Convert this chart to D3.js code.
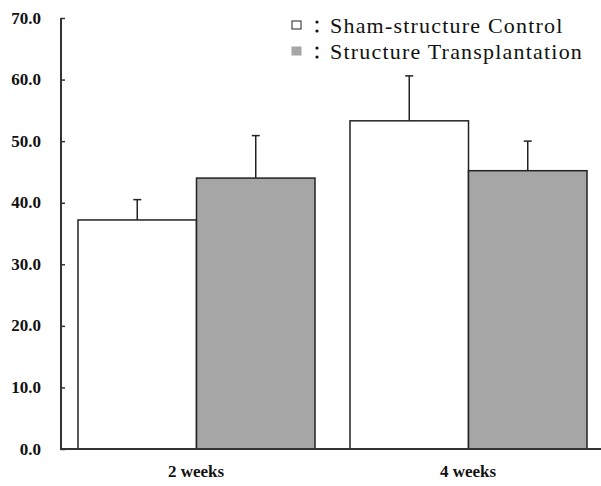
<!DOCTYPE html>
<html>
<head>
<meta charset="utf-8">
<script src="https://cdn.jsdelivr.net/npm/d3@7"></script>
<style>
  body { margin: 0; background: #fff; }
  text { font-family: "Liberation Serif", "Times New Roman", serif; fill: #111; }
</style>
</head>
<body>
<svg id="chart" width="601" height="486"></svg>
<script>
var groups = ['2 weeks', '4 weeks'];
var series = ['Sham-structure Control', 'Structure Transplantation'];
var colors = ['#ffffff', '#a6a6a6'];
// means and SD (upper error bars only)
var means = [[37.2, 44.0], [53.3, 45.2]];
var errs = [[3.3, 6.9], [7.3, 4.8]];
var yTicks = [0, 10, 20, 30, 40, 50, 60, 70];

var svg = d3.select('#chart');
var mLeft = 61, mRight = 605, mTop = 18, mBottom = 449;

var y = d3.scaleLinear().domain([0, 70]).range([mBottom, mTop]);
var x0 = d3.scaleBand().domain(groups).range([mLeft, mRight]);
var x1 = d3.scaleBand().domain(series).range([17, x0.bandwidth() - 18]);

var data = [];
groups.forEach(function(g, i) {
  series.forEach(function(s, j) {
    data.push({ group: g, series: s, v: means[i][j], e: errs[i][j], c: colors[j] });
  });
});

function cx(d) { return x0(d.group) + x1(d.series) + x1.bandwidth() / 2; }

// error bars (drawn behind bars)
var eb = svg.append('g').attr('class', 'errs')
  .selectAll('g').data(data).enter().append('g')
  .attr('stroke', '#222').attr('stroke-width', 1.5);
eb.append('line')
  .attr('x1', cx).attr('x2', cx)
  .attr('y1', function(d) { return y(d.v); })
  .attr('y2', function(d) { return y(d.v + d.e); });
eb.append('line')
  .attr('x1', function(d) { return cx(d) - 4; })
  .attr('x2', function(d) { return cx(d) + 4; })
  .attr('y1', function(d) { return y(d.v + d.e); })
  .attr('y2', function(d) { return y(d.v + d.e); });

svg.append('g').attr('class', 'bars')
  .selectAll('rect').data(data).enter().append('rect')
  .attr('x', function(d) { return x0(d.group) + x1(d.series); })
  .attr('width', x1.bandwidth())
  .attr('y', function(d) { return y(d.v); })
  .attr('height', function(d) { return mBottom - y(d.v); })
  .attr('fill', function(d) { return d.c; })
  .attr('stroke', '#222')
  .attr('stroke-width', 1.5);

// y axis
var yAxis = svg.append('g')
  .attr('transform', 'translate(' + mLeft + ',0)')
  .call(d3.axisRight(y).tickValues(yTicks).tickSize(4).tickFormat(''));
yAxis.select('.domain').attr('stroke', '#333').attr('stroke-width', 2).attr('d', 'M0,' + mTop + 'V' + mBottom);
yAxis.selectAll('.tick line').attr('stroke', '#333').attr('stroke-width', 1.5);

svg.append('g').selectAll('text').data(yTicks).enter().append('text')
  .attr('x', 41)
  .attr('y', function(d) { return y(d) + 5.5; })
  .attr('text-anchor', 'end')
  .attr('font-size', 17)
  .attr('font-weight', 'bold')
  .text(function(d) { return d3.format('.1f')(d); });

// x axis
svg.append('line')
  .attr('x1', mLeft - 1).attr('x2', 601)
  .attr('y1', mBottom).attr('y2', mBottom)
  .attr('stroke', '#333').attr('stroke-width', 2);

svg.append('g').selectAll('text').data(groups).enter().append('text')
  .attr('x', function(d) { return x0(d) + x0.bandwidth() / 2 - 1; })
  .attr('y', 477)
  .attr('text-anchor', 'middle')
  .attr('font-size', 17)
  .attr('font-weight', 'bold')
  .text(function(d) { return d; });

// legend
var leg = svg.append('g').selectAll('g').data(series).enter().append('g')
  .attr('transform', function(d, i) { return 'translate(292,' + (21 + i * 26) + ')'; });
leg.append('rect')
  .attr('width', 9).attr('height', 8)
  .attr('fill', function(d, i) { return colors[i]; })
  .attr('stroke', function(d, i) { return i === 0 ? '#222' : colors[i]; })
  .attr('stroke-width', 1);
leg.append('circle').attr('cx', 25).attr('cy', 1).attr('r', 1.6).attr('fill', '#111');
leg.append('circle').attr('cx', 25).attr('cy', 10).attr('r', 1.6).attr('fill', '#111');
leg.append('text')
  .attr('x', 38).attr('y', 12)
  .attr('font-size', 22)
  .attr('letter-spacing', 1.2)
  .text(function(d) { return d; });
</script>
</body>
</html>
